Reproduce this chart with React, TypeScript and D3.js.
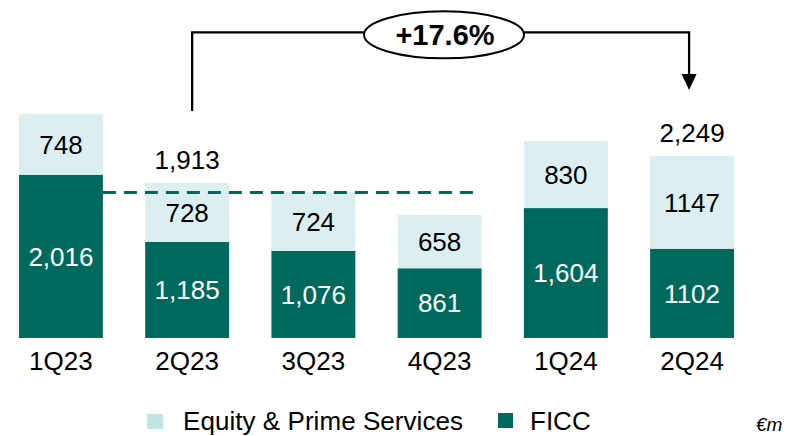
import React from "react";
import * as d3 from "d3";

const categories = ["1Q23", "2Q23", "3Q23", "4Q23", "1Q24", "2Q24"];
const ficc = [2016, 1185, 1076, 861, 1604, 1102];
const equity = [748, 728, 724, 658, 830, 1147];
const ficcLabels = ["2,016", "1,185", "1,076", "861", "1,604", "1102"];
const equityLabels = ["748", "728", "724", "658", "830", "1147"];
const totalCats = ["2Q23", "2Q24"];
const totalLabels = ["1,913", "2,249"];
const totalValues = [1913, 2249];
const referenceLevel = 1795;
const growthLabel = "+17.6%";
const legendItems = ["Equity & Prime Services", "FICC"];
const unitLabel = "€m";

const W = 787;
const H = 436;
const FICC_COLOR = "#00695D";
const EQ_COLOR = "#DBEFF0";
const EQ_LEGEND = "#BFE6E2";
const FONT = "'Liberation Sans', Arial, Helvetica, sans-serif";

export default function App() {
  const x = d3
    .scaleBand<string>()
    .domain(categories)
    .range([-2.2, 755.2])
    .paddingInner(0.335)
    .paddingOuter(0.1675);
  const y = d3.scaleLinear().domain([0, 3000]).range([338, 95]);
  const bw = x.bandwidth();

  const refX1 = (x("1Q23") as number) + bw;
  const refX2 = (x("4Q23") as number) + bw - 5;
  const refY = y(referenceLevel);

  const lx = (x(totalCats[0]) as number) + bw / 2 + 5;
  const rx = (x(totalCats[1]) as number) + bw / 2 - 3;
  const topY = 32.3;
  const ex = 444;
  const legendY = 429.5;

  return (
    <svg
      width={W}
      height={H}
      style={{ position: "absolute", left: 0, top: 0, fontFamily: FONT }}
    >
      <rect width={W} height={H} fill="#fff" />
      {categories.map((c, i) => {
        const bx = x(c) as number;
        const y0 = y(0);
        const y1 = y(ficc[i]);
        const y2 = y(ficc[i] + equity[i]);
        const cx = bx + bw / 2;
        return (
          <g key={c}>
            <rect x={bx} y={y1} width={bw} height={y0 - y1} fill={FICC_COLOR} />
            <rect x={bx} y={y2} width={bw} height={y1 - y2} fill={EQ_COLOR} />
            <text
              x={cx}
              y={(y0 + y1) / 2}
              dy="0.36em"
              textAnchor="middle"
              fontSize={26}
              fill="#fff"
            >
              {ficcLabels[i]}
            </text>
            <text
              x={cx}
              y={(y1 + y2) / 2}
              dy="0.36em"
              textAnchor="middle"
              fontSize={26}
              fill="#000"
            >
              {equityLabels[i]}
            </text>
            <text x={cx} y={370} textAnchor="middle" fontSize={26} fill="#000">
              {c}
            </text>
          </g>
        );
      })}
      {totalCats.map((c, i) => (
        <text
          key={c}
          x={(x(c) as number) + bw / 2}
          y={y(totalValues[i]) - 14}
          textAnchor="middle"
          fontSize={26}
          fill="#000"
        >
          {totalLabels[i]}
        </text>
      ))}
      <line
        x1={refX1}
        x2={refX2}
        y1={refY}
        y2={refY}
        stroke={FICC_COLOR}
        strokeWidth={3}
        strokeDasharray="13 8"
      />
      <path
        d={`M${lx},111 L${lx},${topY} L${rx},${topY} L${rx},76`}
        fill="none"
        stroke="#000"
        strokeWidth={2.3}
      />
      <path d={`M${rx - 7.5},74 L${rx + 7.5},74 L${rx},90 Z`} fill="#000" />
      <ellipse
        cx={ex}
        cy={34.8}
        rx={80}
        ry={23.5}
        fill="#fff"
        stroke="#000"
        strokeWidth={2}
      />
      <text
        x={ex + 1}
        y={34.8}
        dy="0.36em"
        textAnchor="middle"
        fontSize={29}
        fontWeight="bold"
        fill="#000"
      >
        {growthLabel}
      </text>
      <rect x={147} y={414} width={16} height={15} fill={EQ_LEGEND} />
      <text x={183} y={legendY} fontSize={26} fill="#000" textLength={280} lengthAdjust="spacing">
        {legendItems[0]}
      </text>
      <rect x={498} y={413} width={15} height={15} fill={FICC_COLOR} />
      <text x={530} y={legendY} fontSize={26} fill="#000">
        {legendItems[1]}
      </text>
      <text x={756} y={legendY + 1} fontSize={19} fontStyle="italic" fill="#000">
        {unitLabel}
      </text>
    </svg>
  );
}
